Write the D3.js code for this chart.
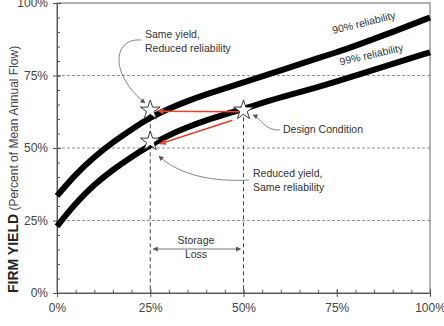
<!DOCTYPE html>
<html>
<head>
<meta charset="utf-8">
<script src="https://cdn.jsdelivr.net/npm/d3@7"></script>
<style>
  body { margin: 0; background: #fff; }
  svg { font-family: "Liberation Sans", Arial, sans-serif; }
  .tick text { fill: #444; font-size: 12px; }
  .note { fill: #333; font-size: 10.5px; }
</style>
</head>
<body>
<script>
// storage (% of mean annual flow) vs firm yield (%)
var storage = [0, 5, 10, 15, 20, 25, 30, 35, 40, 45, 50, 60, 70, 75, 80, 90, 100]
var yield90 = [33.5, 41, 47, 52, 56.5, 60.5, 63.6, 66.2, 68.5, 70.6, 72.6, 76.8, 81, 83, 85.2, 90, 95]
var yield99 = [23, 31, 37.5, 42.5, 47, 51, 54.5, 57.2, 59.6, 61.6, 63.5, 67.5, 71, 73, 75, 79, 83]
var xTicks = [0, 25, 50, 75, 100]
var yTicks = [0, 25, 50, 75, 100]
var gridY = [25, 50, 75]
var stars = [{x: 25, y: 63}, {x: 50, y: 63}, {x: 25, y: 52.3}]

var svgWidth = 444, svgHeight = 326
var margin = {top: 3, right: 14, bottom: 33, left: 57}
var width = svgWidth - margin.left - margin.right
var height = svgHeight - margin.top - margin.bottom

var svg = d3.select("body").append("svg")
  .attr("width", svgWidth)
  .attr("height", svgHeight)

var defs = svg.append("defs")
function marker(id, color, w, h) {
  defs.append("marker")
    .attr("id", id)
    .attr("viewBox", "0 0 10 10")
    .attr("refX", 9).attr("refY", 5)
    .attr("markerWidth", w).attr("markerHeight", h)
    .attr("markerUnits", "userSpaceOnUse")
    .attr("orient", "auto-start-reverse")
    .append("path")
    .attr("d", "M0,0 L10,5 L0,10 z")
    .attr("fill", color)
}
marker("arrGray", "#555", 6, 5)
marker("arrRed", "#e8402a", 8, 6)

var g = svg.append("g").attr("transform", "translate(" + margin.left + "," + margin.top + ")")

var x = d3.scaleLinear().domain([0, 100]).range([0, width])
var y = d3.scaleLinear().domain([0, 100]).range([height, 0])

// grid lines
g.selectAll(".grid").data(gridY).enter().append("line")
  .attr("x1", 0).attr("x2", width)
  .attr("y1", d => y(d)).attr("y2", d => y(d))
  .attr("stroke", "#777").attr("stroke-width", 0.8)
  .attr("stroke-dasharray", "3,2")

// frame
g.append("rect").attr("width", width).attr("height", height)
  .attr("fill", "none").attr("stroke", "#666").attr("stroke-width", 1)

// axes: minor ticks inside, major ticks crossing
var minor = d3.range(0, 101, 5)
g.append("g").attr("transform", "translate(0," + height + ")")
  .call(d3.axisBottom(x).tickValues(minor).tickSize(-3).tickFormat(""))
  .call(a => a.select(".domain").remove())
  .selectAll("line").attr("stroke", "#555")
g.append("g").attr("transform", "translate(0," + height + ")")
  .call(d3.axisBottom(x).tickValues(xTicks).tickSize(4).tickPadding(6).tickFormat(d => d + "%"))
  .call(a => a.select(".domain").attr("stroke", "#555"))
  .call(a => a.selectAll("line").attr("stroke", "#555").attr("y1", -4))
g.append("g")
  .call(d3.axisLeft(y).tickValues(minor).tickSize(-3).tickFormat(""))
  .call(a => a.select(".domain").remove())
  .selectAll("line").attr("stroke", "#555")
g.append("g")
  .call(d3.axisLeft(y).tickValues(yTicks).tickSize(4).tickPadding(5).tickFormat(d => d + "%"))
  .call(a => a.select(".domain").attr("stroke", "#555"))
  .call(a => a.selectAll("line").attr("stroke", "#555").attr("x1", 4))
g.selectAll(".tick text").attr("fill", "#444").style("font-size", "12px")

// y title
var yt = svg.append("text")
  .attr("transform", "translate(18," + (margin.top + height) + ") rotate(-90)")
  .attr("fill", "#222")
yt.append("tspan").text("FIRM YIELD").style("font-weight", "bold").style("font-size", "14px")
yt.append("tspan").text(" (Percent of Mean Annual Flow)").style("font-size", "12px").attr("fill", "#444")

// vertical dashed lines at 25% and 50% storage
g.selectAll(".vline").data([stars[0], stars[1]]).enter().append("line")
  .attr("x1", d => x(d.x)).attr("x2", d => x(d.x))
  .attr("y1", d => y(d.y)).attr("y2", height)
  .attr("stroke", "#444").attr("stroke-width", 1)
  .attr("stroke-dasharray", "4,3")

// curves
var line = d3.line().x(d => x(d[0])).y(d => y(d[1])).curve(d3.curveBasis)
;[yield90, yield99].forEach(ys => {
  g.append("path")
    .datum(storage.map((s, i) => [s, ys[i]]))
    .attr("d", line)
    .attr("fill", "none").attr("stroke", "#000").attr("stroke-width", 6)
})

// curve labels
g.append("text").attr("class", "note")
  .attr("transform", "translate(" + x(82.5) + "," + y(92) + ") rotate(-14)")
  .attr("text-anchor", "middle").text("90% reliability")
g.append("text").attr("class", "note")
  .attr("transform", "translate(" + x(84.5) + "," + y(81) + ") rotate(-13)")
  .attr("text-anchor", "middle").text("99% reliability")

// red arrows from design condition
var d0 = stars[1]
g.append("line")
  .attr("x1", x(d0.x) - 2).attr("y1", y(d0.y) + 1.5)
  .attr("x2", x(stars[0].x) + 8).attr("y2", y(stars[0].y) + 1)
  .attr("stroke", "#e8402a").attr("stroke-width", 1.6)
  .attr("marker-end", "url(#arrRed)")
g.append("line")
  .attr("x1", x(d0.x) - 11).attr("y1", y(d0.y) + 10)
  .attr("x2", x(stars[2].x) + 10).attr("y2", y(stars[2].y) + 2.5)
  .attr("stroke", "#e8402a").attr("stroke-width", 1.6)
  .attr("marker-end", "url(#arrRed)")

// stars
g.selectAll(".star").data(stars).enter().append("path")
  .attr("transform", d => "translate(" + x(d.x) + "," + y(d.y) + ")")
  .attr("d", d3.symbol().type(d3.symbolStar).size(120))
  .attr("fill", "#fff").attr("stroke", "#222").attr("stroke-width", 0.9)

// annotations
function note(lines, px, py, anchor) {
  var t = svg.append("text").attr("class", "note").attr("text-anchor", anchor || "start")
  lines.forEach((s, i) => t.append("tspan").attr("x", px).attr("y", py + i * 14).text(s))
}
note(["Same yield,", "Reduced reliability"], 145, 38)
note(["Design Condition"], 283, 133)
note(["Reduced yield,", "Same reliability"], 253, 177)
note(["Storage", "Loss"], 196, 244, "middle")

function curved(d) {
  svg.append("path").attr("d", d)
    .attr("fill", "none").attr("stroke", "#666").attr("stroke-width", 0.8)
    .attr("marker-end", "url(#arrGray)")
}
curved("M141,40 C112,38 110,75 145,103")
curved("M280,130 C265,131 262,119 253,115")
curved("M249,180 C215,182 180,176 159,156")

// storage loss double arrow
svg.append("line")
  .attr("x1", margin.left + x(25) + 3).attr("x2", margin.left + x(50) - 3)
  .attr("y1", 249).attr("y2", 249)
  .attr("stroke", "#666").attr("stroke-width", 0.9)
  .attr("marker-start", "url(#arrGray)").attr("marker-end", "url(#arrGray)")
</script>
</body>
</html>
